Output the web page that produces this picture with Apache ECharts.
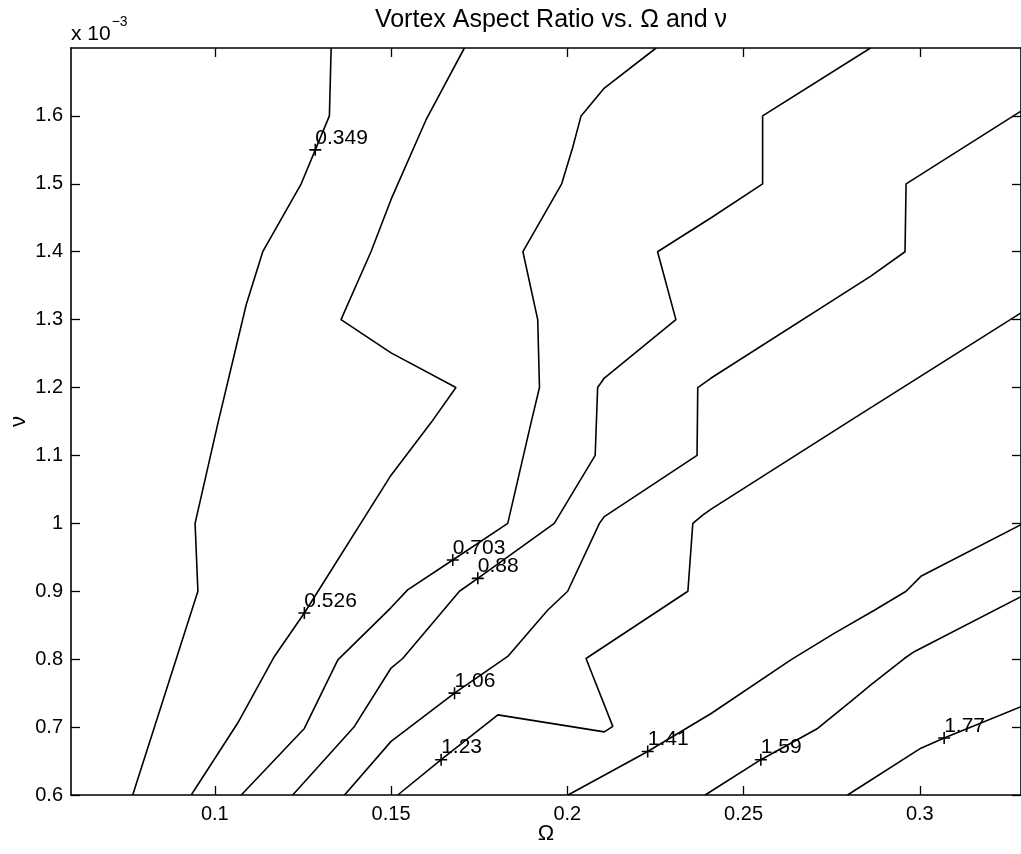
<!DOCTYPE html>
<html>
<head>
<meta charset="utf-8">
<title>Vortex Aspect Ratio</title>
<script src="https://cdn.jsdelivr.net/npm/echarts@6/dist/echarts.min.js"></script>
<style>
  html, body { margin: 0; padding: 0; background: #fff; }
  #chart { width: 1021px; height: 854px; }
</style>
</head>
<body>
<div id="chart"></div>
<script>
  // Omega on x, nu (in units of 1e-3) on y
  var omegaTicks = [0.1, 0.15, 0.2, 0.25, 0.3];
  var nuTicks = [0.6, 0.7, 0.8, 0.9, 1.0, 1.1, 1.2, 1.3, 1.4, 1.5, 1.6];
  var levels = ['0.349', '0.526', '0.703', '0.88', '1.06', '1.23', '1.41', '1.59', '1.77'];

  var c0349 = [[0.1330, 1.70], [0.1325, 1.60], [0.1285, 1.55], [0.1245, 1.50], [0.1136, 1.40],
    [0.1089, 1.322], [0.1009, 1.148], [0.0944, 1.00], [0.0952, 0.90], [0.0767, 0.60]];
  var c0526 = [[0.1708, 1.70], [0.1599, 1.594], [0.1500, 1.477], [0.1443, 1.40], [0.1358, 1.30],
    [0.1500, 1.251], [0.1684, 1.20], [0.1613, 1.148], [0.1500, 1.071], [0.1254, 0.868],
    [0.1169, 0.804], [0.1065, 0.706], [0.0933, 0.60]];
  var c0703 = [[0.2252, 1.70], [0.2105, 1.641], [0.2039, 1.60], [0.2015, 1.553], [0.1984, 1.50],
    [0.1874, 1.40], [0.1916, 1.30], [0.1921, 1.20], [0.1897, 1.148], [0.1831, 1.00],
    [0.1675, 0.946], [0.1547, 0.902], [0.1500, 0.876], [0.1349, 0.799], [0.1254, 0.698],
    [0.1075, 0.60]];
  var c088 = [[0.2860, 1.70], [0.2554, 1.60], [0.2554, 1.50], [0.2408, 1.45], [0.2256, 1.40],
    [0.2308, 1.30], [0.2105, 1.214], [0.2086, 1.20], [0.2079, 1.10], [0.1963, 1.00],
    [0.1746, 0.919], [0.1694, 0.90], [0.1533, 0.801], [0.1500, 0.787], [0.1396, 0.701],
    [0.1221, 0.60]];
  var c106 = [[0.3287, 1.607], [0.2961, 1.50], [0.2958, 1.40], [0.2861, 1.364], [0.2408, 1.214],
    [0.2370, 1.20], [0.2368, 1.10], [0.2105, 1.010], [0.2091, 1.00], [0.2001, 0.90],
    [0.1944, 0.872], [0.1831, 0.804], [0.1680, 0.750], [0.1500, 0.679], [0.1368, 0.60]];
  var c123 = [[0.3287, 1.310], [0.2805, 1.152], [0.2408, 1.021], [0.2384, 1.012], [0.2356, 1.00],
    [0.2342, 0.90], [0.2053, 0.801], [0.2129, 0.701], [0.2105, 0.693], [0.1803, 0.718],
    [0.1642, 0.652], [0.1519, 0.60]];
  var c141 = [[0.3287, 0.998], [0.3003, 0.922], [0.2961, 0.90], [0.2871, 0.872], [0.2757, 0.838],
    [0.2634, 0.799], [0.2408, 0.720], [0.2228, 0.664], [0.2002, 0.60]];
  var c159 = [[0.3287, 0.892], [0.2984, 0.811], [0.2956, 0.801], [0.2861, 0.762], [0.2814, 0.742],
    [0.2710, 0.698], [0.2549, 0.652], [0.2391, 0.60]];
  var c177 = [[0.3287, 0.730], [0.3069, 0.684], [0.3003, 0.669], [0.2795, 0.60]];

  var contours = [c0349, c0526, c0703, c088, c106, c123, c141, c159, c177];
  // where each level is tagged with a "+" and its value
  var labelPoints = [[0.1285, 1.55], [0.1254, 0.868], [0.1675, 0.946], [0.1746, 0.919],
    [0.1680, 0.750], [0.1642, 0.652], [0.2228, 0.664], [0.2549, 0.652], [0.3069, 0.684]];

  var font = 'Liberation Sans, Arial, Helvetica, sans-serif';
  var xMin = 0.0592, xMax = 0.3287, yMin = 0.6, yMax = 1.7;

  var series = contours.map(function (c, i) {
    return {
      name: levels[i],
      type: 'line',
      data: c,
      showSymbol: false,
      silent: true,
      lineStyle: { color: '#000', width: 1.6 }
    };
  });
  series.push({
    type: 'scatter',
    silent: true,
    data: labelPoints.map(function (p, i) { return { value: p, name: levels[i] }; }),
    symbol: 'path://M0,4.35H10V5.65H0Z M4.35,0H5.65V10H4.35Z',
    symbolSize: 12,
    itemStyle: { color: '#000', opacity: 1 },
    label: {
      show: true,
      position: 'right',
      distance: 0,
      offset: [-6, -12],
      formatter: function (p) { return p.name; },
      color: '#000',
      opacity: 1,
      fontSize: 21,
      fontFamily: font
    }
  });

  function axisBase(pos) {
    return {
      position: pos,
      axisLine: { show: true, onZero: false, lineStyle: { color: '#000', width: 1.6 } },
      axisTick: { show: true, inside: true, length: 9, lineStyle: { color: '#000', width: 1.3 } },
      splitLine: { show: false }
    };
  }

  var xBottom = axisBase('bottom');
  xBottom.type = 'value';
  xBottom.min = xMin; xBottom.max = xMax;
  xBottom.axisTick.customValues = omegaTicks;
  xBottom.axisLabel = { customValues: omegaTicks, color: '#000', fontSize: 20, fontFamily: font, margin: 9 };
  xBottom.name = 'Ω';
  xBottom.nameLocation = 'middle';
  xBottom.nameMoveOverlap = false;
  xBottom.nameGap = 28;
  xBottom.nameTextStyle = { color: '#000', fontSize: 22, fontFamily: font };

  var xTop = axisBase('top');
  xTop.type = 'value';
  xTop.min = xMin; xTop.max = xMax;
  xTop.axisTick.customValues = omegaTicks;
  xTop.axisLabel = { show: false };

  var yLeft = axisBase('left');
  yLeft.type = 'value';
  yLeft.min = yMin; yLeft.max = yMax;
  yLeft.axisTick.customValues = nuTicks;
  yLeft.axisLabel = { customValues: nuTicks, color: '#000', fontSize: 20, fontFamily: font, margin: 8 };
  yLeft.name = 'ν';
  yLeft.nameLocation = 'middle';
  yLeft.nameMoveOverlap = false;
  yLeft.nameGap = 41;
  yLeft.nameRotate = 90;
  yLeft.nameTextStyle = { color: '#000', fontSize: 22, fontFamily: font };

  var yRight = axisBase('right');
  yRight.type = 'value';
  yRight.min = yMin; yRight.max = yMax;
  yRight.axisTick.customValues = nuTicks;
  yRight.axisLabel = { show: false };

  var option = {
    animation: false,
    backgroundColor: '#fff',
    title: {
      text: 'Vortex Aspect Ratio vs. Ω and ν',
      left: 546,
      textAlign: 'center',
      top: 3,
      textStyle: { color: '#000', fontSize: 25, fontWeight: 'normal', fontFamily: font }
    },
    grid: { left: 71, right: 0, top: 48, bottom: 59, outerBoundsMode: 'none', containLabel: false },
    xAxis: [xBottom, xTop],
    yAxis: [yLeft, yRight],
    graphic: [{
      type: 'text',
      left: 71,
      top: 15,
      style: {
        text: '{b|x 10}{s|−3}',
        rich: {
          b: { fontSize: 21, fontFamily: font, fill: '#000', verticalAlign: 'bottom', padding: [9, 0, 0, 0] },
          s: { fontSize: 14, fontFamily: font, fill: '#000', verticalAlign: 'top', padding: [0, 0, 0, 1] }
        }
      }
    }],
    series: series
  };

  var chart = echarts.init(document.getElementById('chart'));
  chart.setOption(option);
</script>
</body>
</html>
